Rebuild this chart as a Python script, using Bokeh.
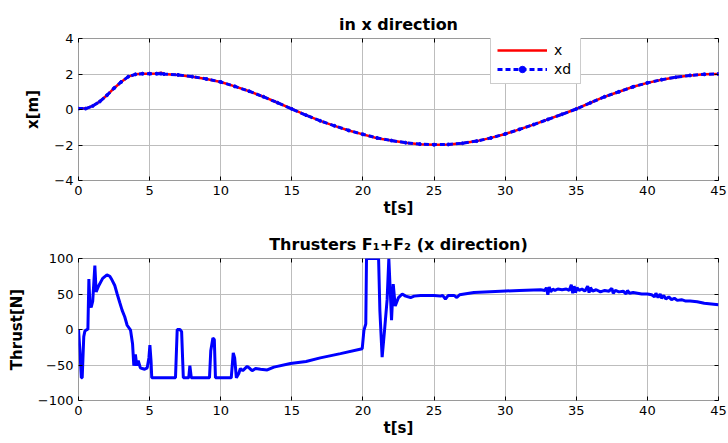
from bokeh.plotting import figure
from bokeh.layouts import column
from bokeh.models import Legend, LegendItem, LinearAxis, FixedTicker
from bokeh.embed import file_html
from bokeh.resources import INLINE

# ---------------- data ----------------
t_pos = [0, 0.5, 1, 1.5, 2, 2.5, 3, 3.5, 4, 4.5, 5, 5.5, 5.8, 6, 7, 8, 9, 10, 11, 12, 13, 14, 15,
         16, 17, 18, 19, 20, 21, 22, 23, 24, 25, 26, 27, 28, 29, 30, 31, 32, 33, 34, 35,
         36, 37, 38, 39, 40, 41, 42, 43, 44, 45]
xd = [0.05, 0.05, 0.2, 0.45, 0.8, 1.2, 1.55, 1.85, 1.98, 2.02, 2.02, 2.02, 2.02, 2.0, 1.95, 1.85,
      1.72, 1.55, 1.3, 1.03, 0.72, 0.38, 0.03, -0.32, -0.64, -0.92, -1.18, -1.4, -1.6, -1.75,
      -1.87, -1.95, -1.98, -1.97, -1.9, -1.78, -1.6, -1.38, -1.12, -0.85, -0.56, -0.27, 0.03,
      0.38, 0.72, 1.0, 1.28, 1.5, 1.68, 1.82, 1.92, 1.98, 2.0]
x_act = [0.05, 0.05, 0.2, 0.45, 0.8, 1.2, 1.55, 1.85, 1.98, 2.02, 2.02, 2.03, 2.07, 2.0, 1.95, 1.84,
         1.72, 1.55, 1.3, 1.03, 0.72, 0.38, 0.03, -0.32, -0.64, -0.92, -1.18, -1.4, -1.62, -1.75,
         -1.87, -1.96, -1.99, -1.97, -1.9, -1.78, -1.6, -1.38, -1.12, -0.85, -0.56, -0.27, 0.03,
         0.38, 0.72, 1.0, 1.28, 1.5, 1.68, 1.82, 1.92, 1.98, 2.0]

t_thr = [0, 0.1, 0.2, 0.26, 0.37, 0.45, 0.6, 0.66, 0.73, 0.8, 0.89, 1.0, 1.15, 1.24, 1.43, 1.7,
         2.0, 2.2, 2.35, 2.55, 2.72, 2.9, 3.07, 3.25, 3.42, 3.66, 3.8, 3.89, 4.0, 4.1, 4.2, 4.35,
         4.48, 4.65, 4.83, 4.95, 5.02, 5.1, 5.15, 6.82, 6.94, 7.13, 7.25, 7.37, 7.75, 7.83, 7.93,
         9.21, 9.3, 9.45, 9.55, 9.63, 10.74, 10.88, 10.98, 11.1, 11.27, 11.38, 11.55, 11.86, 12.05,
         12.21, 12.45, 12.8, 13.27, 13.74, 14.9, 16.0, 17.0, 18.42, 19.95, 20.07, 20.2, 20.25,
         21.0, 21.1, 21.19, 21.35, 21.52, 21.7, 21.82, 22.01, 22.13, 22.27, 22.5, 22.76, 23.0,
         23.35, 23.6, 24.05, 25.0, 25.46, 25.6, 25.8, 26.0, 26.4, 26.6, 26.8, 27.8, 29.68, 31.0,
         32.5, 32.8, 32.9, 33.0, 33.1, 33.2, 33.35, 33.5, 33.7, 34.0, 34.3, 34.5, 34.65, 34.75,
         34.85, 34.95, 35.05, 35.2, 35.4, 35.6, 35.8, 35.9, 36.0, 36.15, 36.4, 36.7, 37.0, 37.3,
         37.5, 37.6, 37.75, 38.0, 38.3, 38.5, 38.6, 38.75, 39.0, 39.3, 39.6, 40.0, 40.3, 40.5,
         40.6, 40.75, 40.9, 41.0, 41.15, 41.3, 41.5, 41.7, 41.9, 42.1, 42.4, 42.7, 43.0, 43.5,
         44.0, 44.5, 45.0]
thrust = [0, -30, -68, -68, -10, -2, 0, 0, 71, 36, 31, 40, 90, 53, 62, 72,
          77, 75, 70, 62, 50, 38, 27, 18, 6, -1, -20, -51, -35, -51, -44, -54,
          -55, -56, -54, -40, -22, -44, -68, -68, 0, 0, -3, -68, -68, -51, -68,
          -68, -30, -12, -14, -68, -68, -33, -40, -68, -62, -55, -58, -52, -55,
          -58, -55, -56, -57, -53, -48, -45, -40, -34, -27, -1, 8, 100,
          100, 100, 27, -39, -1, 42, 100, 13, 64, 33, 45, 50, 47,
          45, 47, 48, 48, 47, 48, 43, 48, 48, 45, 49, 52, 54, 55,
          56, 55, 59, 49, 60, 53, 57, 55, 57, 56, 57, 55, 63, 51,
          61, 52, 59, 55, 57, 54, 61, 52, 59, 54, 56, 53, 55, 54,
          58, 51, 55, 53, 54, 50, 55, 51, 52, 51, 50, 50, 49, 46,
          51, 45, 50, 44, 48, 43, 46, 42, 44, 41, 42, 40, 40, 39,
          37, 36, 35]

x_ticks = [0, 5, 10, 15, 20, 25, 30, 35, 40, 45]
pos_ticks = [-4, -2, 0, 2, 4]
thr_ticks = [-100, -50, 0, 50, 100]

FONT = "DejaVu Sans"
GRID = "#bdbdbd"
FRAME = "#9a9a9a"


def tick_style(ax, ticks):
    ax.ticker = FixedTicker(ticks=ticks)
    ax.axis_line_color = None
    ax.major_tick_in = 4
    ax.major_tick_out = 0
    ax.major_tick_line_color = "black"
    ax.minor_tick_line_color = None


def style(p, yticks):
    tick_style(p.xaxis[0], x_ticks)
    tick_style(p.yaxis[0], yticks)
    p.xgrid.ticker = FixedTicker(ticks=x_ticks)
    p.ygrid.ticker = FixedTicker(ticks=yticks)
    p.grid.grid_line_color = GRID
    p.grid.grid_line_width = 1
    p.outline_line_color = FRAME
    p.outline_line_width = 1
    p.background_fill_color = "white"
    p.border_fill_color = "white"
    for ax in (p.xaxis[0], p.yaxis[0]):
        ax.major_label_text_font = FONT
        ax.major_label_text_font_size = "13px"
        ax.major_label_text_color = "black"
        ax.axis_label_text_font = FONT
        ax.axis_label_text_font_size = "15px"
        ax.axis_label_text_font_style = "bold"
        ax.axis_label_text_color = "black"
    p.xaxis.major_label_standoff = 5
    p.xaxis.axis_label_standoff = 1
    p.yaxis.major_label_standoff = 5
    p.yaxis.axis_label_standoff = 9
    # inward ticks on the top and right edges, without labels
    top = LinearAxis(major_label_standoff=0, major_label_text_font_size="1px",
                     major_label_overrides={v: "" for v in x_ticks})
    tick_style(top, x_ticks)
    right = LinearAxis(major_label_standoff=0, major_label_text_font_size="1px",
                       major_label_overrides={v: "" for v in yticks})
    tick_style(right, yticks)
    p.add_layout(top, "above")
    p.add_layout(right, "right")
    p.title.text_font = FONT
    p.title.text_font_size = "16px"
    p.title.text_font_style = "bold"
    p.title.align = "center"
    p.title.text_color = "black"


# ---------------- top figure ----------------
p1 = figure(width=728, height=221, x_range=(0, 45), y_range=(-4, 4),
            output_backend="svg", toolbar_location=None,
            title="in x direction", x_axis_label="t[s]", y_axis_label="x[m]",
            min_border_left=78, min_border_right=10, min_border_top=38, min_border_bottom=41)
style(p1, pos_ticks)
r_x = p1.line(t_pos, x_act, line_color="#ff0000", line_width=2.5)
r_xd = p1.line(t_pos, xd, line_color="#0000ff", line_width=3, line_dash="5 3")
r_xdm = p1.scatter(t_pos, xd, marker="circle", size=3, fill_color="#0000ff", line_color="#0000ff")

legend = Legend(items=[LegendItem(label="x", renderers=[r_x]),
                       LegendItem(label="xd", renderers=[r_xd, r_xdm])],
                location=(412, 96))
legend.label_text_font = FONT
legend.label_text_font_size = "14px"
legend.label_text_color = "black"
legend.glyph_width = 50
legend.glyph_height = 16
legend.label_height = 16
legend.label_standoff = 7
legend.spacing = 3
legend.padding = 6
legend.margin = 0
legend.border_line_color = FRAME
legend.background_fill_color = "white"
legend.background_fill_alpha = 1
p1.add_layout(legend)

# ---------------- bottom figure ----------------
p2 = figure(width=728, height=222, x_range=(0, 45), y_range=(-100, 100),
            output_backend="svg", toolbar_location=None,
            title="Thrusters F\u2081+F\u2082 (x direction)", x_axis_label="t[s]",
            y_axis_label="Thrust[N]",
            min_border_left=78, min_border_right=10, min_border_top=37, min_border_bottom=43)
style(p2, thr_ticks)
p2.line(t_thr, thrust, line_color="#0000ff", line_width=3)

layout = column(p1, p2, spacing=0)
open("out.html", "w").write(file_html(layout, INLINE))
